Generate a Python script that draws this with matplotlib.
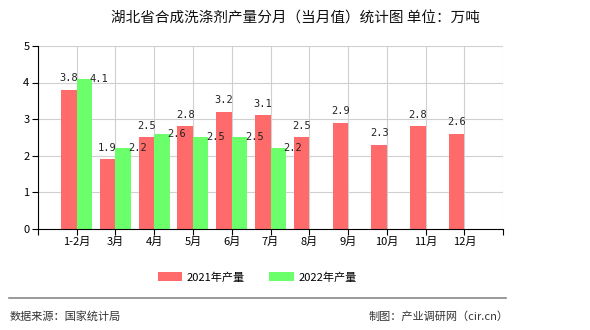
import matplotlib
matplotlib.use('Agg')
import matplotlib.pyplot as plt
import numpy as np

plt.rcParams['font.family'] = ['Noto Sans CJK SC', 'DejaVu Sans']

# data
months = ['1-2月', '3月', '4月', '5月', '6月', '7月', '8月', '9月', '10月', '11月', '12月']
prod_2021 = [3.8, 1.9, 2.5, 2.8, 3.2, 3.1, 2.5, 2.9, 2.3, 2.8, 2.6]
prod_2022 = [4.1, 2.2, 2.6, 2.5, 2.5, 2.2]
series_names = ['2021年产量', '2022年产量']

red = '#ff6b6b'
green = '#6bff6b'

fig = plt.figure(figsize=(5.9, 3.3), dpi=100)
ax = fig.add_axes([0.064, 0.306, 0.789, 0.555])

x = np.arange(1, len(months) + 1)
w = 0.4
b1 = ax.bar(x[:len(prod_2021)] - w / 2, prod_2021, w, color=red, label=series_names[0], zorder=2)
b2 = ax.bar(x[:len(prod_2022)] + w / 2, prod_2022, w, color=green, label=series_names[1], zorder=2)

# value labels: red above the bar, green to the right of the bar top
for xi, v in zip(x, prod_2021):
	ax.text(xi - w / 2, v + 0.18, '%.1f' % v, ha='center', va='bottom',
			fontsize=7.5, family='DejaVu Sans Mono', color='#222222')
for xi, v in zip(x, prod_2022):
	ax.text(xi + w / 2 + 0.38, v, '%.1f' % v, ha='center', va='center',
			fontsize=7.5, family='DejaVu Sans Mono', color='#222222')

ax.set_xlim(0, 12)
ax.set_ylim(0, 5)
ax.set_xticks(range(0, 13))
ax.set_xticklabels([''] + months + [''], fontsize=8)
ax.set_yticks(range(0, 6))
ax.set_yticklabels([str(i) for i in range(0, 6)], fontsize=8)
ax.tick_params(axis='both', length=4, width=0.8, color='black', pad=2)
ax.grid(True, color='#d0d0d0', linewidth=0.8, zorder=0)
ax.set_axisbelow(True)
for s in ['top', 'right']:
	ax.spines[s].set_visible(False)
for s in ['left', 'bottom']:
	ax.spines[s].set_color('black')
	ax.spines[s].set_linewidth(0.8)

fig.text(0.5, 0.945, '湖北省合成洗涤剂产量分月（当月值）统计图 单位：万吨',
		 ha='center', va='center', fontsize=10.5, color='#111111')

fig.legend(handles=[b1, b2], labels=series_names, loc='center', bbox_to_anchor=(0.436, 0.16),
		   ncol=2, frameon=False, fontsize=8, handlelength=2.2, handleheight=0.9,
		   columnspacing=2.2, handletextpad=0.4)

fig.add_artist(plt.Line2D([0.015, 0.858], [0.097, 0.097], color='#888888', linewidth=1.2))
fig.text(0.017, 0.042, '数据来源：国家统计局', ha='left', va='center', fontsize=8, color='#333333')
fig.text(0.862, 0.042, '制图：产业调研网（cir.cn）', ha='right', va='center', fontsize=8, color='#333333')

fig.savefig('out.png', dpi=100)
